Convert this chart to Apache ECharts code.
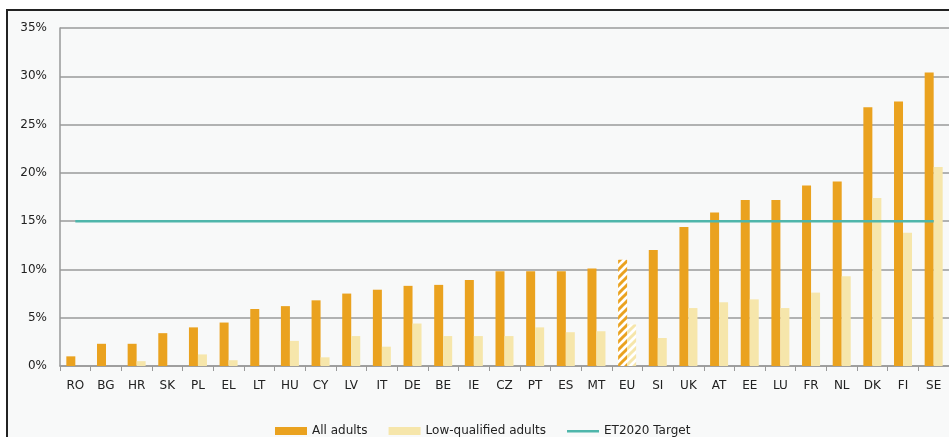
<!DOCTYPE html>
<html>
<head>
<meta charset="utf-8">
<script src="https://cdn.jsdelivr.net/npm/echarts@6/dist/echarts.min.js"></script>
<style>
html,body{margin:0;padding:0;background:#fff;overflow:hidden;}
#frame{position:absolute;left:6px;top:9px;width:960px;height:460px;border:2px solid #222;background:#f8f9f9;}
#chart{position:absolute;left:0;top:0;width:949px;height:437px;}
</style>
</head>
<body>
<div id="frame"></div>
<div id="chart"></div>
<script>
var categories = ['RO','BG','HR','SK','PL','EL','LT','HU','CY','LV','IT','DE','BE','IE','CZ','PT','ES','MT','EU','SI','UK','AT','EE','LU','FR','NL','DK','FI','SE'];
var allAdults = [1.0,2.3,2.3,3.4,4.0,4.5,5.9,6.2,6.8,7.5,7.9,8.3,8.4,8.9,9.8,9.8,9.8,10.1,11.0,12.0,14.4,15.9,17.2,17.2,18.7,19.1,26.8,27.4,30.4];
var lowQualified = [0,0,0.5,0,1.2,0.6,0,2.6,0.9,3.1,2.0,4.4,3.1,3.1,3.1,4.0,3.5,3.6,4.3,2.9,6.0,6.6,6.9,6.0,7.6,9.3,17.4,13.8,20.6];
var targetValue = 15;
var yTicks = [0,5,10,15,20,25,30,35];
var highlightCategory = 'EU';

function stripes(color){
  var c = document.createElement('canvas');
  c.width = 8; c.height = 8;
  var g = c.getContext('2d');
  g.fillStyle = '#ffffff'; g.fillRect(0,0,8,8);
  g.strokeStyle = color; g.lineWidth = 3;
  g.beginPath();
  g.moveTo(-2,10); g.lineTo(10,-2);
  g.moveTo(-6,6); g.lineTo(6,-6);
  g.moveTo(2,14); g.lineTo(14,2);
  g.stroke();
  return {image:c, repeat:'repeat'};
}
var ORANGE = '#eaa21f', LIGHT = '#f6e6ab', TEAL = '#4fb6ab';
var FONT = 'DejaVu Sans';

var allData = allAdults.map(function(v,i){
  return categories[i]===highlightCategory ? {value:v,itemStyle:{color:stripes(ORANGE)}} : v;
});
var lowData = lowQualified.map(function(v,i){
  return categories[i]===highlightCategory ? {value:v,itemStyle:{color:stripes(LIGHT)}} : v;
});
var targetData = categories.map(function(){return targetValue;});

var chart = echarts.init(document.getElementById('chart'), null, {renderer:'canvas'});
chart.setOption({
  animation:false,
  backgroundColor:'transparent',
  textStyle:{fontFamily:FONT},
  grid:{left:60, top:28, bottom:71, right:-4, containLabel:false},
  legend:{
    left:270, top:420, itemGap:21, itemWidth:32, itemHeight:8,
    textStyle:{fontFamily:FONT, fontSize:12, color:'#222'},
    data:[
      {name:'All adults',icon:'rect'},
      {name:'Low-qualified adults',icon:'rect'},
      {name:'ET2020 Target',icon:'path://M0,0 L1,0 M0,3 L32,3 L32,5.5 L0,5.5 Z M0,8 L1,8', itemStyle:{color:TEAL}}
    ]
  },
  xAxis:{
    type:'category', data:categories,
    axisLine:{lineStyle:{color:'#999',width:1.5}},
    axisTick:{show:true,length:5,lineStyle:{color:'#999'}},
    axisLabel:{fontFamily:FONT, fontSize:12, color:'#222', margin:14, interval:0}
  },
  yAxis:{
    type:'value', min:yTicks[0], max:yTicks[yTicks.length-1], interval:5,
    axisLine:{show:true,lineStyle:{color:'#999',width:1.5}},
    axisTick:{show:false},
    splitLine:{lineStyle:{color:'#9a9a9a',width:1.5}},
    axisLabel:{formatter:'{value}%', fontFamily:FONT, fontSize:12, color:'#222', margin:13}
  },
  series:[
    {name:'All adults', type:'bar', data:allData, barWidth:9, barGap:'0%', itemStyle:{color:ORANGE}},
    {name:'Low-qualified adults', type:'bar', data:lowData, barWidth:9, itemStyle:{color:LIGHT}},
    {name:'ET2020 Target', type:'line', data:targetData, symbol:'none', lineStyle:{color:TEAL,width:2.5}, itemStyle:{color:TEAL}, z:5}
  ]
});
</script>
</body>
</html>
